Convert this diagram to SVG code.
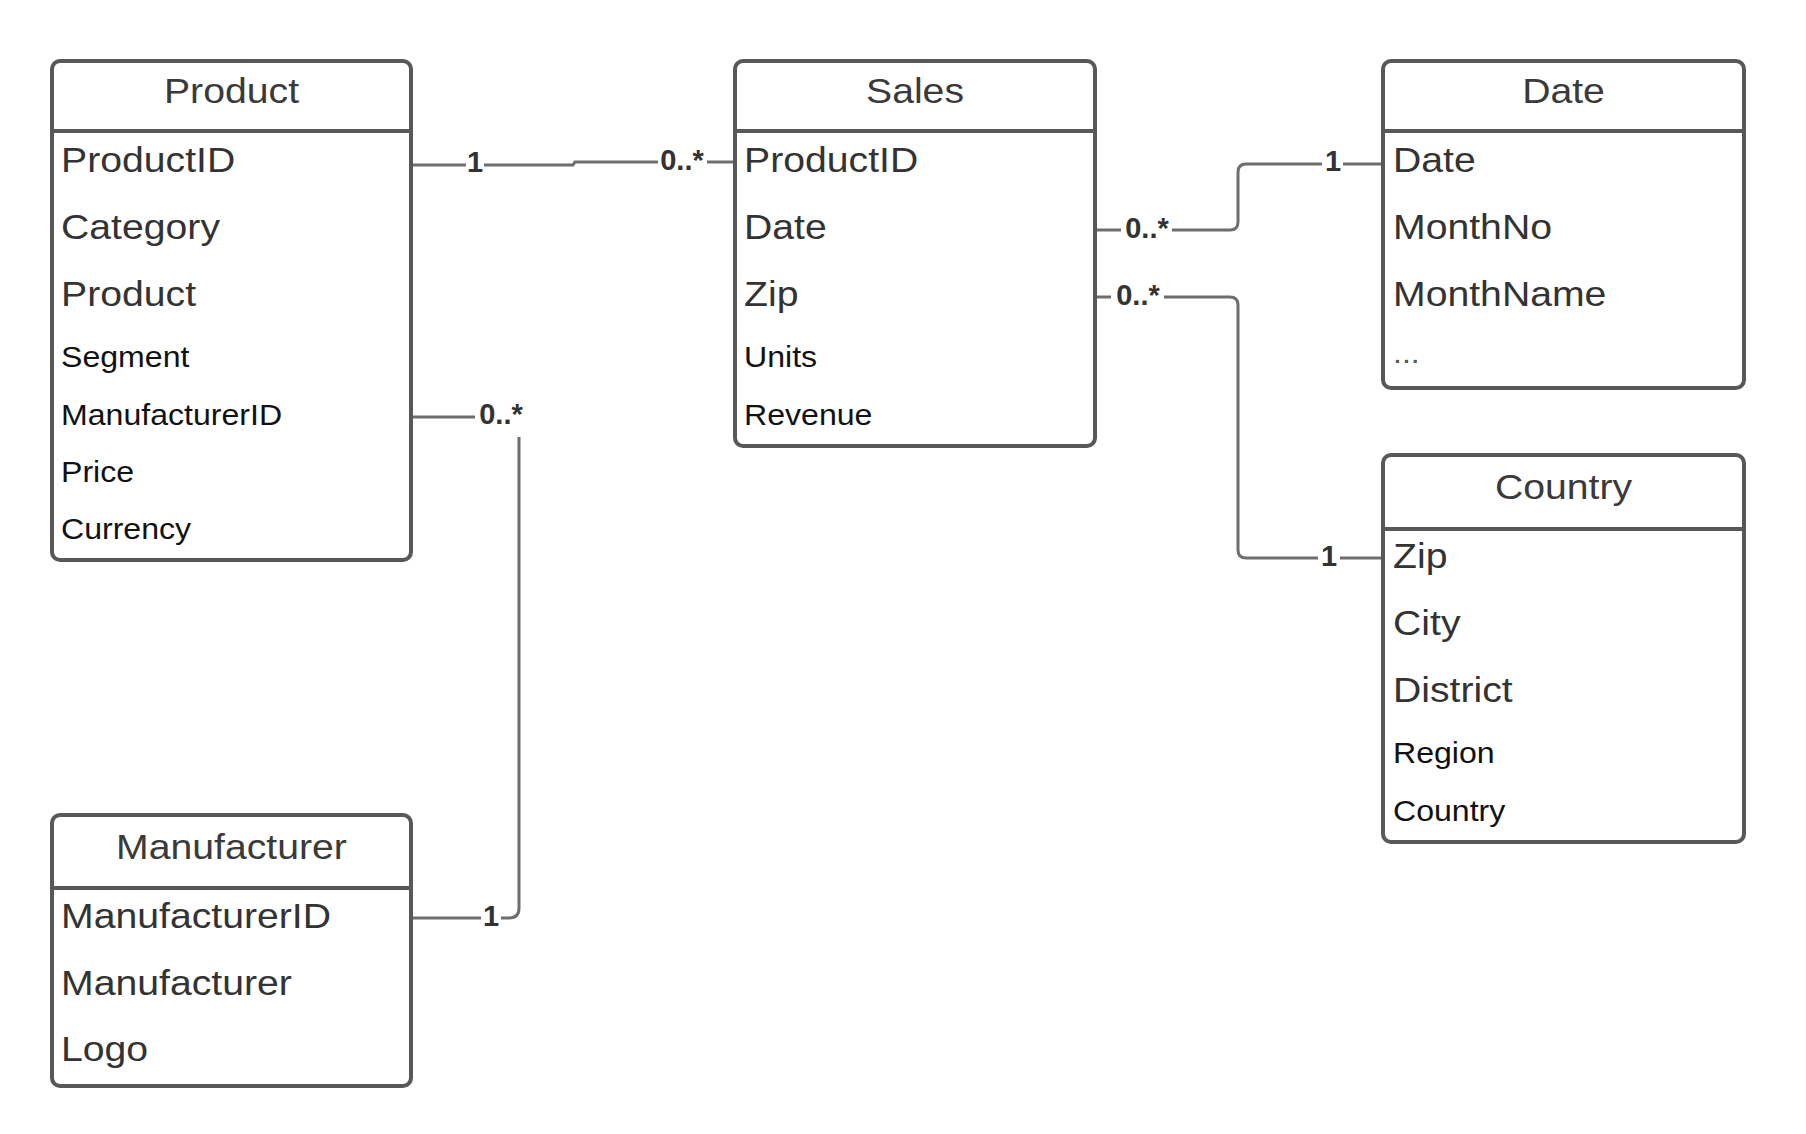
<svg xmlns="http://www.w3.org/2000/svg" width="1806" height="1134" viewBox="0 0 1806 1134">
<style>
.box{fill:#fff;stroke:#585858;stroke-width:4}
.sep{stroke:#585858;stroke-width:4}
.hd{font-family:"Liberation Sans",Arial,sans-serif;font-size:35px;fill:#3a3a3a;text-anchor:middle}
.lg{font-family:"Liberation Sans",Arial,sans-serif;font-size:35px;fill:#333}
.sm{font-family:"Liberation Sans",Arial,sans-serif;font-size:30px;fill:#111}
.conn path{fill:none;stroke:#6e6e6e;stroke-width:3}
.lbl{font-family:"Liberation Sans",Arial,sans-serif;font-size:29px;font-weight:bold;fill:#333;text-anchor:middle}
</style>
<rect width="1806" height="1134" fill="#fff"/>

<g id="connectors" class="conn">
  <path d="M411 165 H466"/>
  <path d="M484 165 H573 L575 162 H658"/>
  <path d="M707 162 H735"/>
  <path d="M1095 230 H1121"/>
  <path d="M1172 230 H1230 Q1238 230 1238 222 V172 Q1238 164 1246 164 H1322"/>
  <path d="M1343 164 H1383"/>
  <path d="M1095 297 H1111"/>
  <path d="M1164 297 H1230 Q1238 297 1238 305 V550 Q1238 558 1246 558 H1318"/>
  <path d="M1340 558 H1383"/>
  <path d="M411 417 H475"/>
  <path d="M519 437 V908 Q519 918 509 918 H501"/>
  <path d="M481 918 H411"/>
  <text class="lbl" x="475" y="172">1</text>
  <text class="lbl" x="682" y="170">0..*</text>
  <text class="lbl" x="1147" y="238">0..*</text>
  <text class="lbl" x="1333" y="171">1</text>
  <text class="lbl" x="1138" y="305">0..*</text>
  <text class="lbl" x="1329" y="566">1</text>
  <text class="lbl" x="501" y="424">0..*</text>
  <text class="lbl" x="491" y="926">1</text>
</g>

<g id="product">
  <rect class="box" x="52" y="61" width="359" height="499" rx="8"/>
  <line class="sep" x1="52" y1="131" x2="411" y2="131"/>
  <text class="hd" transform="translate(231.5,103) scale(1.12,1)">Product</text>
  <text class="lg" transform="translate(61,172) scale(1.12,1)">ProductID</text>
  <text class="lg" transform="translate(61,239) scale(1.12,1)">Category</text>
  <text class="lg" transform="translate(61,306) scale(1.12,1)">Product</text>
  <text class="sm" transform="translate(61,367) scale(1.07,1)">Segment</text>
  <text class="sm" transform="translate(61,425) scale(1.07,1)">ManufacturerID</text>
  <text class="sm" transform="translate(61,482) scale(1.07,1)">Price</text>
  <text class="sm" transform="translate(61,539) scale(1.07,1)">Currency</text>
</g>

<g id="sales">
  <rect class="box" x="735" y="61" width="360" height="385" rx="8"/>
  <line class="sep" x1="735" y1="131" x2="1095" y2="131"/>
  <text class="hd" transform="translate(915,103) scale(1.12,1)">Sales</text>
  <text class="lg" transform="translate(744,172) scale(1.12,1)">ProductID</text>
  <text class="lg" transform="translate(744,239) scale(1.12,1)">Date</text>
  <text class="lg" transform="translate(744,306) scale(1.12,1)">Zip</text>
  <text class="sm" transform="translate(744,367) scale(1.07,1)">Units</text>
  <text class="sm" transform="translate(744,425) scale(1.07,1)">Revenue</text>
</g>

<g id="date">
  <rect class="box" x="1383" y="61" width="361" height="327" rx="8"/>
  <line class="sep" x1="1383" y1="131" x2="1744" y2="131"/>
  <text class="hd" transform="translate(1563.5,103) scale(1.12,1)">Date</text>
  <text class="lg" transform="translate(1393,172) scale(1.12,1)">Date</text>
  <text class="lg" transform="translate(1393,239) scale(1.12,1)">MonthNo</text>
  <text class="lg" transform="translate(1393,306) scale(1.12,1)">MonthName</text>
  <text class="sm" transform="translate(1393,363) scale(1.07,1)" style="fill:#555">...</text>
</g>

<g id="country">
  <rect class="box" x="1383" y="455" width="361" height="387" rx="8"/>
  <line class="sep" x1="1383" y1="529" x2="1744" y2="529"/>
  <text class="hd" transform="translate(1563.5,499) scale(1.12,1)">Country</text>
  <text class="lg" transform="translate(1393,568) scale(1.12,1)">Zip</text>
  <text class="lg" transform="translate(1393,635) scale(1.12,1)">City</text>
  <text class="lg" transform="translate(1393,702) scale(1.12,1)">District</text>
  <text class="sm" transform="translate(1393,763) scale(1.07,1)">Region</text>
  <text class="sm" transform="translate(1393,821) scale(1.07,1)">Country</text>
</g>

<g id="manufacturer">
  <rect class="box" x="52" y="815" width="359" height="271" rx="8"/>
  <line class="sep" x1="52" y1="888" x2="411" y2="888"/>
  <text class="hd" transform="translate(231.5,859) scale(1.12,1)">Manufacturer</text>
  <text class="lg" transform="translate(61,928) scale(1.12,1)">ManufacturerID</text>
  <text class="lg" transform="translate(61,995) scale(1.12,1)">Manufacturer</text>
  <text class="lg" transform="translate(61,1061) scale(1.12,1)">Logo</text>
</g>
</svg>
